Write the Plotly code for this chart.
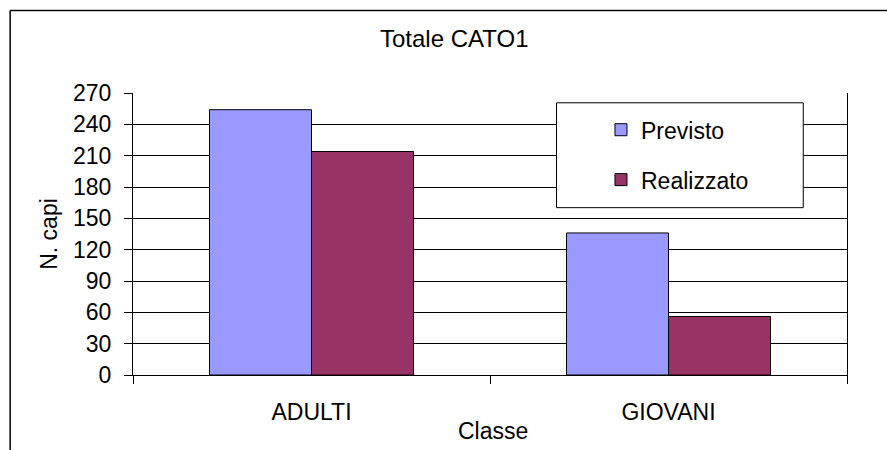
import plotly.graph_objects as go

categories = ["ADULTI", "GIOVANI"]
previsto = [254, 136]
realizzato = [214, 56]
y_ticks = [0, 30, 60, 90, 120, 150, 180, 210, 240, 270]

FONT = "Liberation Sans, Arial, sans-serif"

# plot area in pixels
L, R, T, B = 132.5, 847.3, 92.7, 375.0
W, H = 887, 450
pw, ph = R - L, B - T


def px_x(x):
    return (x - L) / pw


def px_y(y):
    return (B - y) / ph


fig = go.Figure()
fig.add_trace(go.Bar(x=categories, y=previsto, name="Previsto",
                     marker=dict(color="#9999FF", line=dict(color="#000000", width=1)),
                     legendgroup="a"))
fig.add_trace(go.Bar(x=categories, y=realizzato, name="Realizzato",
                     marker=dict(color="#993366", line=dict(color="#000000", width=1)),
                     legendgroup="b"))

shapes = [
    # outer chart border (top and left)
    dict(type="line", xref="paper", yref="paper", x0=px_x(9.5), x1=px_x(890), y0=px_y(10), y1=px_y(10),
         line=dict(color="#000000", width=1.5)),
    dict(type="line", xref="paper", yref="paper", x0=px_x(9.5), x1=px_x(9.5), y0=px_y(10), y1=px_y(460),
         line=dict(color="#000000", width=1.5)),
    # legend box
    dict(type="rect", xref="paper", yref="paper", x0=px_x(556.5), x1=px_x(803.5), y0=px_y(207.5), y1=px_y(102.5),
         fillcolor="#FFFFFF", line=dict(color="#000000", width=1), layer="above"),
]

fig.update_layout(
    width=W, height=H,
    margin=dict(l=L, r=W - R, t=T, b=H - B),
    paper_bgcolor="#FFFFFF", plot_bgcolor="#FFFFFF",
    font=dict(family=FONT, size=23, color="#000000"),
    barmode="group", bargap=1.5 / 3.5, bargroupgap=0,
    showlegend=True,
    legend=dict(x=px_x(601), y=px_y(108), xanchor="left", yanchor="top",
                bgcolor="rgba(0,0,0,0)", borderwidth=0, font=dict(size=23, family=FONT),
                traceorder="grouped", tracegroupgap=17),
    shapes=shapes,
    annotations=[
        dict(text="Totale CATO1", xref="paper", yref="paper", x=px_x(454), y=px_y(38),
             xanchor="center", yanchor="middle", showarrow=False, font=dict(size=24, family=FONT)),
        dict(text="Classe", xref="paper", yref="paper", x=px_x(493), y=px_y(431),
             xanchor="center", yanchor="middle", showarrow=False, font=dict(size=23, family=FONT)),
    ],
    xaxis=dict(type="category", tickson="boundaries", ticks="outside", ticklen=8, tickcolor="#000000",
               showgrid=False, showline=True, linecolor="#000000", linewidth=1,
               tickfont=dict(size=23), ticklabelstandoff=16),
    yaxis=dict(range=[0, 270], tickvals=y_ticks, ticks="outside", ticklen=8, tickcolor="#000000",
               showgrid=True, gridcolor="#000000", gridwidth=1,
               showline=True, linecolor="#000000", linewidth=1, mirror=True, zeroline=False,
               tickfont=dict(size=23), ticklabelstandoff=8,
               title=dict(text="N. capi", font=dict(size=23), standoff=8)),
)

fig.write_html("out.html", config={"displayModeBar": False},
               post_script="document.body.style.margin='0';document.body.style.padding='0';")
